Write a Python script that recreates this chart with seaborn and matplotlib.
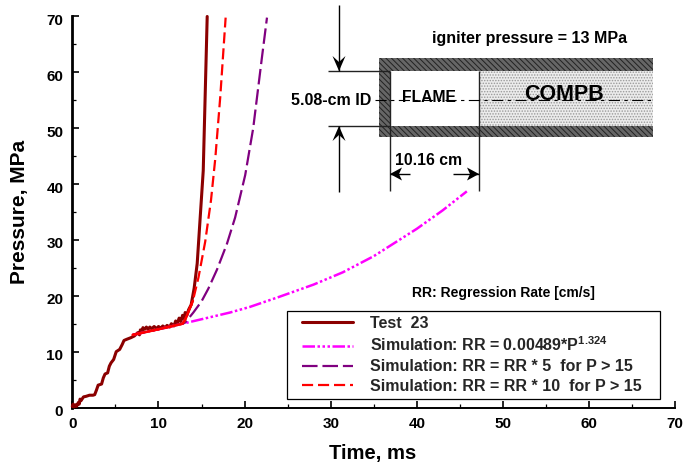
import matplotlib
matplotlib.use("Agg")
import matplotlib.pyplot as plt
from matplotlib.lines import Line2D
from matplotlib.legend_handler import HandlerLine2D
from matplotlib.patches import Rectangle, Polygon
from matplotlib.ticker import MultipleLocator
from matplotlib.transforms import ScaledTranslation
import seaborn as sns

t_test = [0, 0.1, 0.2, 0.4, 0.5, 0.7, 0.8, 0.9, 1.0, 1.3, 1.6, 2.0, 2.4, 2.6, 2.8, 3.0, 3.2, 3.4, 3.6, 3.8, 4.1, 4.3, 4.5, 4.8,
          5.1, 5.5, 5.8, 6.0, 6.3, 6.8, 7.2, 7.6, 7.8, 7.9, 8.1, 8.2, 8.4, 8.6, 8.8, 9.0, 9.2, 9.5, 9.8, 10.0, 10.3, 10.5, 10.8, 11.0,
          11.3, 11.5, 11.8, 12.0, 12.2, 12.4, 12.6, 12.8, 13.0, 13.1, 13.3, 13.5, 13.8, 14.15, 14.5, 15.2, 15.66]
p_test = [0.2, 0.6, 0.1, 0.5, 0.2, 0.9, 0.6, 1.5, 1.2, 1.9, 2.0, 2.2, 2.2, 2.3, 3.1, 4.0, 4.1, 4.2, 5.3, 6.0, 6.2, 7.4, 8.0, 8.6,
          10.0, 10.4, 11.3, 12.0, 12.2, 12.5, 12.8, 13.4, 13.0, 13.9, 13.6, 14.3, 14.0, 14.4, 14.0, 14.4, 14.1, 14.5, 14.1, 14.5, 14.2, 14.6, 14.3, 14.7,
          14.4, 15.0, 14.6, 15.5, 15.0, 16.0, 15.4, 16.5, 15.9, 17.0, 16.5, 17.5, 18.4, 21.4, 25.8, 42.4, 70.0]

t_base = [7.0, 10.0, 12.8, 15.0, 18.3, 20.6, 24.0, 28.0, 31.4, 35.0, 40.0, 43.0, 45.8]
p_base = [13.0, 14.0, 15.0, 15.8, 17.0, 18.0, 19.8, 22.0, 24.2, 27.1, 32.0, 35.3, 38.7]

t_x5 = [7.0, 10.0, 12.8, 13.1, 14.05, 15.0, 15.8, 16.8, 17.95, 18.9, 20.07, 21.0, 22.0, 22.6]
p_x5 = [13.0, 14.0, 15.0, 15.2, 17.0, 19.0, 21.3, 24.7, 29.3, 34.0, 41.6, 50.0, 62.5, 69.8]

t_x10 = [7.0, 10.0, 12.8, 13.1, 14.0, 14.65, 15.43, 16.1, 16.6, 17.17, 17.8]
p_x10 = [13.0, 14.0, 15.0, 15.7, 19.1, 23.3, 29.7, 37.1, 44.6, 55.5, 69.8]

t_plateau = [7.0, 10.0, 12.8, 13.1, 14.0]
p_plateau = [13.0, 14.0, 15.0, 15.7, 19.1]

label_test = "Test  23"
label_base = r"Simulation: RR = 0.00489*P$^{\mathbf{1.324}}$"
label_x5 = "Simulation: RR = RR * 5  for P > 15"
label_x10 = "Simulation: RR = RR * 10  for P > 15"

W, H = 685, 465
sns.set_theme(style="ticks")
plt.rcParams["font.family"] = ["Liberation Sans", "DejaVu Sans"]
plt.rcParams["font.weight"] = "bold"
plt.rcParams["mathtext.fontset"] = "custom"
plt.rcParams["mathtext.bf"] = "Liberation Sans:bold"
plt.rcParams["hatch.linewidth"] = 0.7

fig = plt.figure(figsize=(W / 100, H / 100), dpi=100, facecolor="white")
ax = fig.add_axes([72.3 / W, 1 - 407.5 / H, 603 / W, 391 / H])

common = dict(ax=ax, estimator=None, errorbar=None, sort=False, clip_on=False)
sns.lineplot(x=t_test, y=p_test, color="#8b0000", lw=2.2, label=label_test, zorder=3, **common)
sns.lineplot(x=t_base, y=p_base, color="#ff00ff", lw=1.8, label=label_base, zorder=4,
             linestyle=(0, (5, 1, 1, 1, 1, 1, 1, 1)), **common)
sns.lineplot(x=t_x5, y=p_x5, color="#800080", lw=1.6, label=label_x5, zorder=5,
             linestyle=(0, (7, 2.2)), **common)
sns.lineplot(x=t_x10, y=p_x10, color="#ff0000", lw=1.6, label=label_x10, zorder=6,
             linestyle=(0, (5, 2.2)), **common)
sns.lineplot(x=t_plateau, y=p_plateau, color="#ff0000", lw=1.8, zorder=6, legend=False, **common)

ax.set_xlim(0, 70)
ax.set_ylim(0, 70)
ax.xaxis.set_major_locator(MultipleLocator(10))
ax.yaxis.set_major_locator(MultipleLocator(10))
ax.xaxis.set_minor_locator(MultipleLocator(5))
ax.yaxis.set_minor_locator(MultipleLocator(5))
ax.tick_params(which="major", direction="in", length=5.2, width=1.2, labelsize=11, pad=6.5, color="black", labelcolor="black")
ax.tick_params(which="minor", direction="in", length=3, width=0.9, color="black")
ax.spines["top"].set_visible(False)
ax.spines["right"].set_visible(False)
ax.spines["left"].set_linewidth(2.0)
ax.spines["left"].set_color("black")
ax.spines["bottom"].set_linewidth(1.4)
ax.spines["bottom"].set_color("black")
ax.patch.set_alpha(0)

nudge = ScaledTranslation(0, -3 / 100, fig.dpi_scale_trans)
for lab in ax.get_yticklabels():
    lab.set_transform(lab.get_transform() + nudge)

leg = ax.legend(loc="lower left", bbox_to_anchor=(287 / W, 1 - 399 / H, 373 / W, 90 / H),
                bbox_transform=fig.transFigure, mode="expand", borderaxespad=0,
                frameon=True, fancybox=False, edgecolor="black", framealpha=1,
                handlelength=3.8, handletextpad=1.06, labelspacing=0.3, borderpad=0.32,
                handler_map={Line2D: HandlerLine2D(xpad=0.62)},
                prop={"family": "Liberation Sans", "weight": "bold", "size": 11.5})
leg.get_frame().set_linewidth(0.9)
leg.set_zorder(10)

# overlay in pixel space for labels and the schematic
ov = fig.add_axes([0, 0, 1, 1], facecolor="none")
ov.set_xlim(0, W)
ov.set_ylim(H, 0)
ov.axis("off")

def T(x, y, s, size, **kw):
    ov.text(x, y, s, fontsize=size, fontweight="bold", color="black", ha="center", va="center", **kw)

T(373, 453, "Time, ms", 14.6)
T(20, 212, "Pressure, MPa", 15, rotation=90)
T(503, 293, "RR: Regression Rate [cm/s]", 10)

# schematic
ov.add_patch(Rectangle((479, 71), 174, 55, fc="#ececec", ec="#999999", hatch="......", lw=0, zorder=1))
for (x, y, w, h) in [(379, 58, 274, 13), (379, 126, 274, 11), (379, 71, 11, 55)]:
    ov.add_patch(Rectangle((x, y), w, h, fc="#666666", ec="#222222", hatch="\\\\\\\\\\\\", lw=0, zorder=2))

def L(x0, y0, x1, y1, c="#222222", lw=1.0, **kw):
    ov.plot([x0, x1], [y0, y1], color=c, lw=lw, solid_capstyle="butt", zorder=3, **kw)

L(328, 71, 390, 71)
L(328, 126, 390, 126)
L(390, 71, 390, 191)
L(479, 71, 479, 191)
L(375, 100, 653, 100, c="black", lw=0.8, linestyle=(0, (10, 4, 3, 4)))

def arrow(x0, y0, x1, y1, length=15, half=6.5, notch=9):
    L(x0, y0, x1, y1, c="black")
    d = ((x1 - x0) ** 2 + (y1 - y0) ** 2) ** 0.5
    ux, uy = (x1 - x0) / d, (y1 - y0) / d
    px, py = -uy, ux
    ov.add_patch(Polygon([(x1, y1),
                          (x1 - ux * length + px * half, y1 - uy * length + py * half),
                          (x1 - ux * notch, y1 - uy * notch),
                          (x1 - ux * length - px * half, y1 - uy * length - py * half)],
                         closed=True, fc="black", ec="none", zorder=4))

arrow(339, 5, 339, 71)
arrow(339, 192, 339, 126)
arrow(410, 174, 390, 174, length=12)
arrow(453, 174, 479, 174, length=12)

T(530, 38, "igniter pressure = 13 MPa", 11.5)
T(331, 100, "5.08-cm ID", 11.5)
T(429, 97, "FLAME", 11.3, zorder=5)
T(564, 94, "COMPB", 15.5, zorder=5)
T(429, 160, "10.16 cm", 11.3)

fig.savefig("out.png", dpi=100)
